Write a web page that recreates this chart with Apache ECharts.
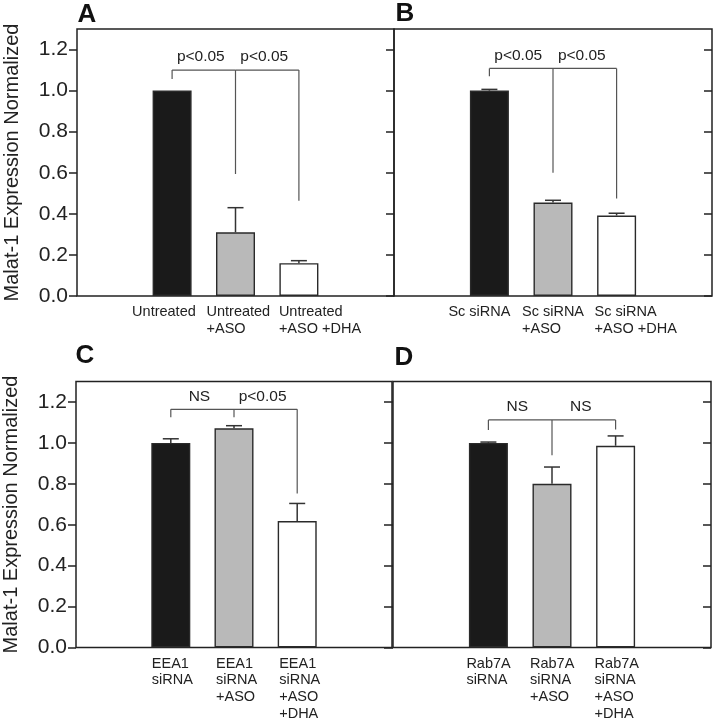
<!DOCTYPE html>
<html>
<head>
<meta charset="utf-8">
<script src="https://cdn.jsdelivr.net/npm/echarts@6/dist/echarts.min.js"></script>
<style>
html,body{margin:0;padding:0;background:#fff;}
#chart{width:714px;height:723px;}
</style>
</head>
<body>
<div id="chart"></div>
<script>
// ---------- data ----------
const yTicks = [0, 0.2, 0.4, 0.6, 0.8, 1.0, 1.2];
const yMax = 1.3;
const yTitle = 'Malat-1 Expression Normalized';

const catsA = ['Untreated', 'Untreated\n+ASO', 'Untreated\n+ASO +DHA'];
const meansA = [1.0, 0.31, 0.16];
const errsA = [0, 0.12, 0.012];
const bracketTopA = 1.10;
const bracketEndsA = [1.056, 0.594, 0.464];
const sigA = ['p<0.05', 'p<0.05'];

const catsB = ['Sc siRNA', 'Sc siRNA\n+ASO', 'Sc siRNA\n+ASO +DHA'];
const meansB = [1.0, 0.455, 0.392];
const errsB = [0.006, 0.011, 0.011];
const bracketTopB = 1.108;
const bracketEndsB = [1.07, 0.60, 0.475];
const sigB = ['p<0.05', 'p<0.05'];

const catsC = ['EEA1\nsiRNA', 'EEA1\nsiRNA\n+ASO', 'EEA1\nsiRNA\n+ASO\n+DHA'];
const meansC = [1.0, 1.071, 0.618];
const errsC = [0.02, 0.013, 0.086];
const bracketTopC = 1.164;
const bracketEndsC = [1.125, 1.125, 0.753];
const sigC = ['NS', 'p<0.05'];

const catsD = ['Rab7A\nsiRNA', 'Rab7A\nsiRNA\n+ASO', 'Rab7A\nsiRNA\n+ASO\n+DHA'];
const meansD = [1.0, 0.80, 0.986];
const errsD = [0.004, 0.082, 0.048];
const bracketTopD = 1.112;
const bracketEndsD = [1.063, 0.94, 1.066];
const sigD = ['NS', 'NS'];

// ---------- layout / style ----------
const FONT = '"Liberation Sans", Arial, sans-serif';
const INK = '#222';
const fills = ['#1a1a1a', '#b9b9b9', '#ffffff'];

const panels = [
  {cats: catsA, means: meansA, errs: errsA, top: bracketTopA, ends: bracketEndsA, sig: sigA,
   g: {left: 77, top: 29, width: 317, height: 267}, letter: 'A', lx: 87, ly: 15, yLabels: true, offs: [40, 29, 20]},
  {cats: catsB, means: meansB, errs: errsB, top: bracketTopB, ends: bracketEndsB, sig: sigB,
   g: {left: 394, top: 29, width: 318, height: 267}, letter: 'B', lx: 405, ly: 14, yLabels: false, offs: [41, 31, 22]},
  {cats: catsC, means: meansC, errs: errsC, top: bracketTopC, ends: bracketEndsC, sig: sigC,
   g: {left: 75, top: 381.5, width: 317, height: 266}, letter: 'C', lx: 85, ly: 356, yLabels: true, offs: [19, 18, 18]},
  {cats: catsD, means: meansD, errs: errsD, top: bracketTopD, ends: bracketEndsD, sig: sigD,
   g: {left: 393, top: 381.5, width: 318, height: 266}, letter: 'D', lx: 404, ly: 358, yLabels: false, offs: [22, 22, 21]}
];

const grid = [], xAxis = [], yAxis = [], series = [], graphic = [];

panels.forEach((p, i) => {
  grid.push(Object.assign({show: true, borderColor: INK, borderWidth: 1.5, backgroundColor: 'transparent'}, p.g));

  const rich = {};
  p.offs.forEach(o => {
    rich['o' + o] = {width: 2 * o, align: 'left', fontSize: 14.5, lineHeight: 16.6, color: INK, fontFamily: FONT};
  });
  xAxis.push({
    type: 'category', gridIndex: i,
    data: [''].concat(p.cats, ['']),
    axisLine: {show: false}, axisTick: {show: false}, splitLine: {show: false},
    axisLabel: {
      interval: 0, margin: 8, color: INK, fontSize: 14.5, fontFamily: FONT, lineHeight: 16.6,
      rich: rich,
      formatter: (val, idx) => {
        if (!val) return '';
        const o = p.offs[idx - 1];
        return val.split('\n').map(s => '{o' + o + '|' + s + '}').join('\n');
      }
    }
  });

  yAxis.push({
    type: 'value', gridIndex: i, min: 0, max: yMax, position: 'left',
    axisLine: {show: false}, splitLine: {show: false},
    axisTick: {show: true, length: 8, customValues: yTicks, lineStyle: {color: INK, width: 1.5}},
    axisLabel: {show: p.yLabels, customValues: yTicks, margin: 9, fontSize: 21, color: INK, fontFamily: FONT,
      formatter: v => v.toFixed(1)},
    name: p.yLabels ? yTitle : '', nameLocation: 'middle', nameGap: 55,
    nameTextStyle: {fontSize: 20, color: INK, fontFamily: FONT}
  });
  yAxis.push({
    type: 'value', gridIndex: i, min: 0, max: yMax, position: 'right',
    axisLine: {show: false}, splitLine: {show: false},
    axisTick: {show: true, inside: true, length: 8, customValues: yTicks, lineStyle: {color: INK, width: 1.5}},
    axisLabel: {show: false}
  });

  series.push({
    type: 'bar', xAxisIndex: i, yAxisIndex: 2 * i, barWidth: 39, silent: true,
    data: ['-'].concat(p.means.map((v, k) => ({
      value: v, itemStyle: {color: fills[k], borderColor: '#2a2a2a', borderWidth: 1.4}
    })), ['-'])
  });

  series.push({
    type: 'custom', xAxisIndex: i, yAxisIndex: 2 * i, silent: true, z: 5,
    data: p.means.map((m, k) => [k + 1, m, p.errs[k]]),
    encode: {x: 0, y: 1},
    renderItem: (params, api) => {
      const x = api.value(0), m = api.value(1), e = api.value(2);
      if (!e) return null;
      const p0 = api.coord([x, m]);
      const p1 = api.coord([x, m + e]);
      const st = {stroke: '#333', lineWidth: 1.5};
      return {type: 'group', children: [
        {type: 'line', shape: {x1: p0[0], y1: p0[1], x2: p1[0], y2: p1[1]}, style: st},
        {type: 'line', shape: {x1: p1[0] - 8, y1: p1[1], x2: p1[0] + 8, y2: p1[1]}, style: st}
      ]};
    }
  });

  series.push({
    type: 'custom', xAxisIndex: i, yAxisIndex: 2 * i, silent: true, z: 6,
    data: p.ends.map((e, k) => [k + 1, p.top, e]),
    encode: {x: 0, y: 1},
    renderItem: (params, api) => {
      const x = api.value(0), t = api.value(1), e = api.value(2);
      const k = params.dataIndex;
      const pt = api.coord([x, t]);
      const pe = api.coord([x, e]);
      const st = {stroke: '#555', lineWidth: 1.2};
      const children = [
        {type: 'line', shape: {x1: pt[0], y1: pt[1], x2: pe[0], y2: pe[1]}, style: st}
      ];
      if (k < p.sig.length) {
        const pn = api.coord([x + 1, t]);
        children.push({type: 'line', shape: {x1: pt[0], y1: pt[1], x2: pn[0], y2: pn[1]}, style: st});
        children.push({type: 'text', x: (pt[0] + pn[0]) / 2 - 3, y: pt[1] - 13,
          style: {text: p.sig[k], fill: INK, font: '15.5px ' + FONT,
            align: 'center', verticalAlign: 'middle', textAlign: 'center', textVerticalAlign: 'middle'}});
      }
      return {type: 'group', children: children};
    }
  });

  graphic.push({type: 'text', x: p.lx, y: p.ly,
    style: {text: p.letter, fill: '#111', font: 'bold 26px ' + FONT,
      align: 'center', verticalAlign: 'middle', textAlign: 'center', textVerticalAlign: 'middle'}});
});

const chart = echarts.init(document.getElementById('chart'), null, {renderer: 'canvas'});
chart.setOption({
  animation: false,
  backgroundColor: '#fff',
  grid: grid, xAxis: xAxis, yAxis: yAxis, series: series, graphic: graphic
});
</script>
</body>
</html>
